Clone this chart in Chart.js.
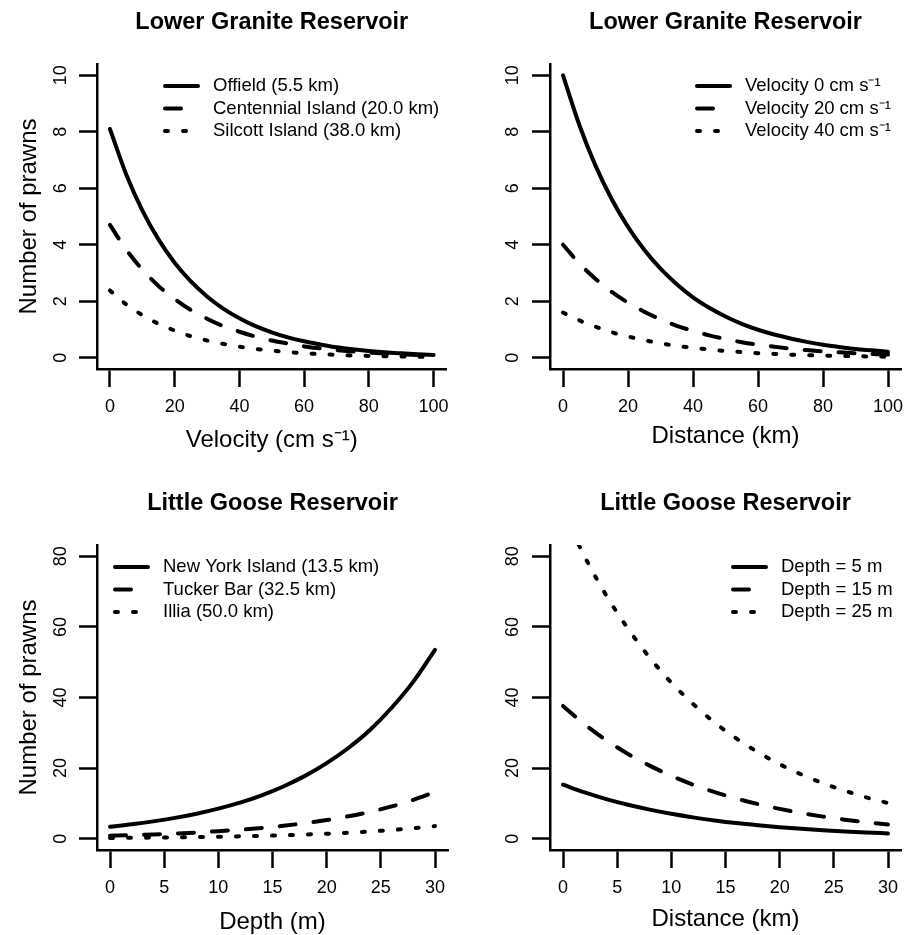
<!DOCTYPE html>
<html>
<head>
<meta charset="utf-8">
<script src="https://cdn.jsdelivr.net/npm/chart.js"></script>
<style>
    * {
        margin: 0;
        padding: 0;
        box-sizing: border-box;
    }
    body {
        background: #fff;
        width: 916px;
        height: 935px;
        overflow: hidden;
        position: relative;
    }
    canvas {
        position: absolute;
    }
</style>
</head>
<body>
<canvas id="c1" width="458" height="467" style="left:0;top:0"></canvas>
<canvas id="c2" width="458" height="467" style="left:458px;top:0"></canvas>
<canvas id="c3" width="458" height="467" style="left:0;top:481px"></canvas>
<canvas id="c4" width="458" height="467" style="left:458px;top:481px"></canvas>
<script>
    // Lower Granite, by velocity (cm/s)
    const velocity = [0, 5, 10, 15, 20, 25, 30, 35, 40, 45, 50, 55, 60, 65, 70, 75, 80, 85, 90, 95, 100];
    const offield = [8.10, 6.50, 5.22, 4.19, 3.36, 2.70, 2.17, 1.74, 1.40, 1.12, 0.90, 0.72, 0.58, 0.47, 0.37, 0.30, 0.24, 0.19, 0.155, 0.125, 0.10];
    const centennial = [4.70, 3.83, 3.12, 2.54, 2.08, 1.69, 1.38, 1.12, 0.92, 0.75, 0.61, 0.50, 0.40, 0.33, 0.27, 0.22, 0.18, 0.146, 0.12, 0.097, 0.08];
    const silcott = [2.38, 1.89, 1.51, 1.20, 0.96, 0.76, 0.61, 0.49, 0.39, 0.31, 0.25, 0.20, 0.16, 0.125, 0.10, 0.08, 0.064, 0.05, 0.04, 0.032, 0.026];

    // Lower Granite, by distance (km)
    const distanceLG = [0, 5, 10, 15, 20, 25, 30, 35, 40, 45, 50, 55, 60, 65, 70, 75, 80, 85, 90, 95, 100];
    const vel0 = [10.0, 8.25, 6.80, 5.61, 4.63, 3.82, 3.15, 2.60, 2.14, 1.77, 1.46, 1.20, 0.99, 0.82, 0.68, 0.56, 0.46, 0.38, 0.31, 0.26, 0.21];
    const vel20 = [4.00, 3.34, 2.79, 2.33, 1.95, 1.63, 1.36, 1.13, 0.95, 0.79, 0.66, 0.55, 0.46, 0.39, 0.32, 0.27, 0.22, 0.19, 0.16, 0.13, 0.11];
    const vel40 = [1.60, 1.32, 1.10, 0.90, 0.75, 0.62, 0.51, 0.42, 0.35, 0.29, 0.24, 0.20, 0.16, 0.135, 0.11, 0.09, 0.077, 0.063, 0.052, 0.043, 0.036];

    // Little Goose, by depth (m)
    const depth = [0, 2, 4, 6, 8, 10, 12, 14, 16, 18, 20, 22, 24, 26, 28, 30];
    const newYork = [3.4, 4.08, 4.91, 5.90, 7.09, 8.52, 10.2, 12.3, 14.8, 17.8, 21.4, 25.7, 30.8, 37.1, 44.5, 53.5];
    const tucker = [0.85, 1.02, 1.22, 1.47, 1.76, 2.12, 2.54, 3.05, 3.66, 4.40, 5.28, 6.34, 7.61, 9.14, 11.0, 13.2];
    const illia = [0.22, 0.27, 0.32, 0.38, 0.46, 0.56, 0.67, 0.81, 0.97, 1.17, 1.41, 1.70, 2.05, 2.46, 2.97, 3.57];

    // Little Goose, by distance (km)
    const distanceLGo = [0, 2, 4, 6, 8, 10, 12, 14, 16, 18, 20, 22, 24, 26, 28, 30];
    const depth5 = [15.3, 13.1, 11.2, 9.6, 8.24, 7.06, 6.04, 5.18, 4.43, 3.80, 3.25, 2.79, 2.39, 2.04, 1.75, 1.50];
    const depth15 = [37.6, 32.4, 27.9, 24.0, 20.7, 17.8, 15.3, 13.2, 11.4, 9.8, 8.44, 7.27, 6.26, 5.39, 4.64, 4.0];
    const depth25 = [92.6, 79.9, 68.9, 59.5, 51.3, 44.2, 38.2, 32.9, 28.4, 24.5, 21.1, 18.2, 15.7, 13.6, 11.7, 10.1];

    // tick labels
    const ticks100 = [0, 20, 40, 60, 80, 100];
    const ticks30 = [0, 5, 10, 15, 20, 25, 30];
    const ticks10 = [0, 2, 4, 6, 8, 10];
    const ticks80 = [0, 20, 40, 60, 80];

    const SOLID = [];
    const DASHED = [16, 18];
    const DOTTED = [3, 15];
    const LINE_W = 4;
    const FONT = '"Liberation Sans", Arial, Helvetica, sans-serif';

    Chart.defaults.font.family = FONT;
    Chart.defaults.color = '#000';

    // R-style legend drawn inside the plot box
    const rLegend = {
        id: 'rLegend',
        afterDraw(chart, args, opts) {
            const {ctx, chartArea} = chart;
            const x0 = chartArea.left + opts.x;
            const y0 = chartArea.top + opts.y;
            ctx.save();
            ctx.font = '18.5px ' + FONT;
            ctx.textBaseline = 'middle';
            ctx.fillStyle = '#000';
            chart.data.datasets.forEach((ds, i) => {
                const y = y0 + i * 22.5;
                ctx.beginPath();
                ctx.lineWidth = ds.borderWidth;
                ctx.lineCap = 'round';
                ctx.strokeStyle = '#000';
                ctx.setLineDash(ds.borderDash);
                ctx.moveTo(x0 + 2, y);
                ctx.lineTo(x0 + 35, y);
                ctx.stroke();
                ctx.setLineDash([]);
                ctx.fillText(ds.label, x0 + 50, y);
            });
            ctx.restore();
        }
    };

    function panel(id, cfg) {
        return new Chart(document.getElementById(id), {
            type: 'line',
            data: {
                datasets: cfg.series.map(s => ({
                    label: s.label,
                    data: cfg.xs.map((x, i) => ({x: x, y: s.ys[i]})),
                    borderColor: '#000',
                    borderWidth: LINE_W,
                    borderDash: s.dash,
                    borderCapStyle: 'round',
                    pointRadius: 0,
                    fill: false,
                    cubicInterpolationMode: 'monotone'
                }))
            },
            options: {
                responsive: false,
                animation: false,
                layout: {padding: {left: 0, top: 0, right: cfg.padRight, bottom: 0}},
                plugins: {
                    legend: {display: false},
                    tooltip: {enabled: false},
                    title: {
                        display: true,
                        text: cfg.title,
                        fullSize: false,
                        color: '#000',
                        font: {size: 23.5, weight: 'bold'},
                        padding: {top: 8, bottom: 27.8}
                    },
                    rLegend: {x: cfg.legX, y: 22}
                },
                scales: {
                    x: {
                        type: 'linear',
                        position: 'bottom',
                        min: cfg.xRange[0],
                        max: cfg.xRange[1],
                        afterBuildTicks: s => { s.ticks = cfg.xTicks.map(v => ({value: v})); },
                        afterFit: s => { s.height = 98; },
                        border: {display: true, color: '#000', width: 2.5},
                        grid: {drawOnChartArea: false, tickLength: 18, tickWidth: 2.5, tickColor: '#000'},
                        ticks: {color: '#000', font: {size: 18}, padding: 9, maxRotation: 0, autoSkip: false},
                        title: {
                            display: true,
                            text: cfg.xTitle,
                            color: '#000',
                            font: {size: 24},
                            padding: {top: 0, bottom: cfg.xTitlePad}
                        }
                    },
                    y: {
                        type: 'linear',
                        position: 'left',
                        min: cfg.yRange[0],
                        max: cfg.yRange[1],
                        afterBuildTicks: s => { s.ticks = cfg.yTicks.map(v => ({value: v})); },
                        afterFit: s => { s.width = cfg.yWidth; },
                        border: {display: true, color: '#000', width: 2.5},
                        grid: {drawOnChartArea: false, tickLength: 18, tickWidth: 2.5, tickColor: '#000'},
                        ticks: {
                            color: '#000',
                            font: {size: 18},
                            padding: cfg.yTickPad,
                            minRotation: 90,
                            maxRotation: 90,
                            crossAlign: 'center',
                            autoSkip: false
                        },
                        title: {
                            display: !!cfg.yTitle,
                            text: cfg.yTitle || '',
                            color: '#000',
                            font: {size: 24},
                            padding: {top: 14.6, bottom: 0}
                        }
                    }
                }
            },
            plugins: [rLegend]
        });
    }

    panel('c1', {
        title: 'Lower Granite Reservoir',
        xs: velocity,
        series: [
            {label: 'Offield (5.5 km)', ys: offield, dash: SOLID},
            {label: 'Centennial Island (20.0 km)', ys: centennial, dash: DASHED},
            {label: 'Silcott Island (38.0 km)', ys: silcott, dash: DOTTED}
        ],
        xRange: [-4, 104], yRange: [-0.4, 10.4],
        xTicks: ticks100, yTicks: ticks10,
        xTitle: 'Velocity (cm s\u207B\u00B9)', xTitlePad: 12.6,
        yTitle: 'Number of prawns',
        yWidth: 97, yTickPad: 8, padRight: 10, legX: 66
    });

    panel('c2', {
        title: 'Lower Granite Reservoir',
        xs: distanceLG,
        series: [
            {label: 'Velocity 0 cm s\u207B\u00B9', ys: vel0, dash: SOLID},
            {label: 'Velocity 20 cm s\u207B\u00B9', ys: vel20, dash: DASHED},
            {label: 'Velocity 40 cm s\u207B\u00B9', ys: vel40, dash: DOTTED}
        ],
        xRange: [-4, 104], yRange: [-0.4, 10.4],
        xTicks: ticks100, yTicks: ticks10,
        xTitle: 'Distance (km)', xTitlePad: 16.6,
        yWidth: 92, yTickPad: 9, padRight: 15, legX: 145
    });

    panel('c3', {
        title: 'Little Goose Reservoir',
        xs: depth,
        series: [
            {label: 'New York Island (13.5 km)', ys: newYork, dash: SOLID},
            {label: 'Tucker Bar (32.5 km)', ys: tucker, dash: DASHED},
            {label: 'Illia (50.0 km)', ys: illia, dash: DOTTED}
        ],
        xRange: [-1.2, 31.2], yRange: [-3.2, 83.2],
        xTicks: ticks30, yTicks: ticks80,
        xTitle: 'Depth (m)', xTitlePad: 11.6,
        yTitle: 'Number of prawns',
        yWidth: 97, yTickPad: 8, padRight: 10, legX: 16
    });

    panel('c4', {
        title: 'Little Goose Reservoir',
        xs: distanceLGo,
        series: [
            {label: 'Depth = 5 m', ys: depth5, dash: SOLID},
            {label: 'Depth = 15 m', ys: depth15, dash: DASHED},
            {label: 'Depth = 25 m', ys: depth25, dash: DOTTED}
        ],
        xRange: [-1.2, 31.2], yRange: [-3.2, 83.2],
        xTicks: ticks30, yTicks: ticks80,
        xTitle: 'Distance (km)', xTitlePad: 14.6,
        yWidth: 92, yTickPad: 9, padRight: 15, legX: 181
    });
</script>
</body>
</html>
